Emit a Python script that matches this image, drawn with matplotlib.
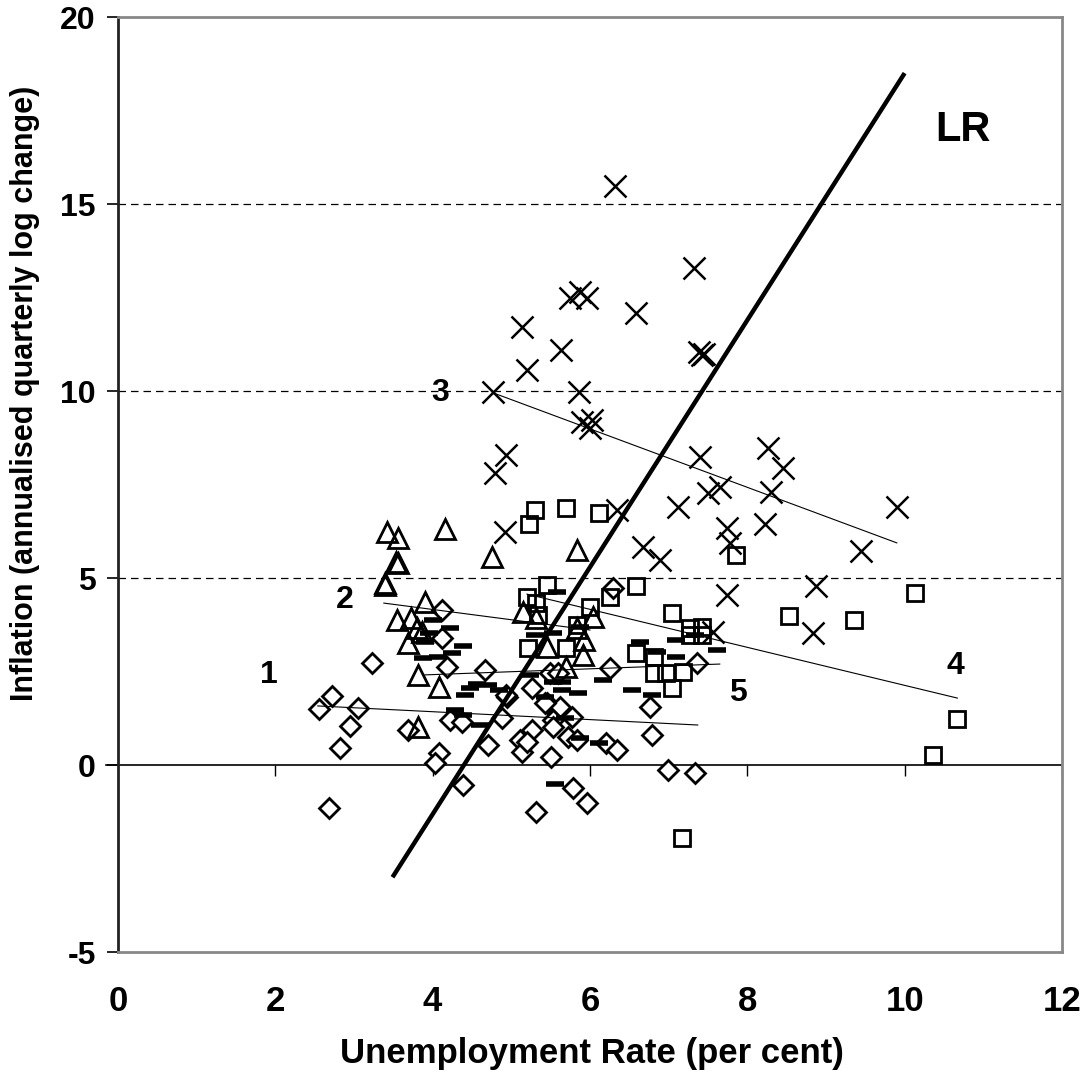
import matplotlib
matplotlib.use("Agg")
import matplotlib.pyplot as plt

plt.rcParams['font.family'] = ['Liberation Sans', 'DejaVu Sans']
plt.rcParams['font.weight'] = 'bold'
plt.rcParams['axes.unicode_minus'] = False

# period 1 (diamonds)
u1 = [2.55, 2.72, 3.05, 2.95, 2.82, 3.23, 2.68, 3.69, 4.08, 4.03, 4.38, 4.12, 4.12, 4.18,
      4.66, 4.22, 4.37, 4.71, 5.26, 4.94, 5.49, 5.59, 6.25, 6.29, 7.36, 6.76, 6.79, 6.99,
      7.33, 5.45, 5.62, 5.77, 5.53, 4.88, 5.26, 5.11, 5.13, 5.51, 5.72, 5.83, 6.21, 6.35,
      5.78, 5.96, 5.32, 4.93, 5.43, 5.53, 5.20]
p1 = [1.50, 1.84, 1.52, 1.04, 0.45, 2.73, -1.15, 0.94, 0.32, 0.05, -0.53, 4.14, 3.40, 2.62,
      2.54, 1.20, 1.15, 0.53, 2.06, 1.82, 2.46, 2.46, 2.59, 4.73, 2.73, 1.55, 0.80, -0.13,
      -0.21, 1.66, 1.55, 1.28, 1.20, 1.26, 0.94, 0.67, 0.35, 0.21, 0.75, 0.67, 0.59, 0.40,
      -0.62, -1.02, -1.26, 1.87, 1.66, 1.02, 0.62]

# period 2 (triangles)
u2 = [3.42, 3.56, 3.54, 3.56, 3.39, 3.39, 4.16, 4.76, 3.90, 3.55, 3.73, 3.80, 3.69, 3.86,
      3.82, 4.08, 3.82, 5.15, 6.04, 5.83, 5.93, 5.91, 5.70, 5.45, 5.32, 5.83]
p2 = [6.23, 6.07, 5.43, 5.40, 4.87, 4.81, 6.31, 5.56, 4.36, 3.88, 3.93, 3.66, 3.26, 3.56,
      2.41, 2.09, 1.02, 4.09, 3.96, 3.66, 3.34, 2.94, 2.62, 3.16, 3.93, 5.75]

# period 3 (crosses)
u3 = [6.32, 7.32, 5.74, 5.87, 5.96, 5.13, 5.63, 5.20, 6.59, 7.38, 7.42, 7.45, 4.77, 5.86,
      5.90, 6.02, 6.00, 4.93, 4.79, 7.40, 8.26, 7.50, 7.65, 8.30, 7.12, 6.34, 4.92, 8.46,
      8.23, 9.90, 9.44, 8.87, 8.83, 7.74, 6.67, 6.89, 7.78, 7.74, 7.56]
p3 = [15.48, 13.29, 12.50, 12.65, 12.50, 11.70, 11.10, 10.56, 12.08, 11.05, 10.95, 11.00,
      9.97, 9.97, 9.17, 9.22, 9.00, 8.29, 7.80, 8.24, 8.48, 7.27, 7.43, 7.30, 6.90, 6.82,
      6.23, 7.94, 6.44, 6.90, 5.72, 4.79, 3.53, 6.34, 5.83, 5.48, 5.94, 4.55, 3.56]

# period 4 (squares)
u4 = [5.30, 5.69, 6.12, 5.22, 7.86, 5.45, 5.20, 5.32, 5.34, 6.00, 6.25, 6.59, 7.04, 7.27,
      7.42, 7.42, 7.27, 5.21, 5.83, 5.70, 6.59, 6.82, 6.82, 6.97, 7.18, 7.04, 8.53, 9.36,
      10.13, 10.66, 10.36, 7.17]
p4 = [6.82, 6.87, 6.74, 6.44, 5.61, 4.81, 4.50, 4.33, 4.01, 4.22, 4.49, 4.79, 4.06, 3.66,
      3.69, 3.48, 3.48, 3.13, 3.74, 3.13, 2.99, 2.89, 2.46, 2.46, 2.49, 2.06, 3.98, 3.88,
      4.60, 1.23, 0.27, -1.95]

# period 5 (dashes)
u5 = [4.00, 4.22, 4.38, 3.88, 4.07, 4.24, 4.56, 4.47, 4.41, 4.28, 4.38, 3.96, 3.90, 4.60,
      5.58, 5.30, 5.53, 5.87, 6.63, 6.85, 7.10, 7.61, 7.33, 7.10, 5.24, 5.53, 5.65, 6.16,
      6.54, 6.79, 5.65, 5.85, 4.70, 4.85, 5.43, 5.68, 5.87, 6.12, 5.55]
p5 = [3.88, 3.66, 3.18, 2.86, 2.89, 2.99, 2.17, 2.06, 1.87, 1.47, 1.34, 3.53, 3.29, 1.07,
      4.63, 3.48, 3.53, 3.69, 3.29, 3.02, 2.89, 3.07, 3.48, 3.34, 2.41, 2.22, 2.22, 2.27,
      2.00, 1.87, 2.00, 1.93, 2.14, 2.00, 1.82, 1.26, 0.72, 0.59, -0.51]

# fitted lines for each period: (x0, x1), (y0, y1)
fit_x = [(2.54, 7.37), (3.38, 6.00), (4.77, 9.90), (5.20, 10.67), (3.90, 7.65)]
fit_y = [(1.58, 1.07), (4.33, 3.61), (9.95, 5.94), (4.57, 1.79), (2.41, 2.70)]
fit_lab = ['1', '2', '3', '4', '5']
lab_x = [1.92, 2.88, 4.10, 10.65, 7.88]
lab_y = [2.40, 4.40, 9.95, 2.65, 1.93]

# long-run line
lr_x = [3.49, 10.0]
lr_y = [-3.0, 18.5]

fig = plt.figure(figsize=(10.82, 10.76), dpi=100)
ax = fig.add_axes([0.109, 0.1152, 0.8725, 0.8690])

ax.plot(u1, p1, 'D', ms=10.5, mfc='white', mec='black', mew=2.0, ls='none', zorder=3)
ax.plot(u4, p4, 's', ms=12, mfc='none', mec='black', mew=2.0, ls='none', zorder=3)
ax.plot(u2, p2, '^', ms=14, mfc='none', mec='black', mew=2.0, ls='none', zorder=3)
ax.plot(u3, p3, 'x', ms=16, mec='black', mew=1.8, ls='none', zorder=3)
ax.plot(u5, p5, '_', ms=13, mec='black', mew=4.0, ls='none', zorder=4)

for fx, fy, t, tx, ty in zip(fit_x, fit_y, fit_lab, lab_x, lab_y):
    ax.plot(fx, fy, color='black', lw=0.8, zorder=5)
    ax.text(tx, ty, t, fontsize=23, fontweight='bold', ha='center', va='center')

ax.plot(lr_x, lr_y, color='black', lw=3.2, solid_capstyle='butt', zorder=6)
ax.text(10.74, 16.98, 'LR', fontsize=30, fontweight='bold', ha='center', va='center')

ax.set_xlim(0, 12)
ax.set_ylim(-5, 20)
ax.set_xticks(range(0, 13, 2))
ax.set_yticks(range(-5, 21, 5))

# dashed gridlines and the zero line
for g in [5, 10, 15]:
    ax.axhline(g, color='black', lw=0.9, ls=(0, (6, 4)), zorder=1)
ax.axhline(0, color='black', lw=1.2, zorder=2)
ax.plot([-0.15, 0], [0, 0], color='black', lw=1.2, clip_on=False)
ax.vlines(range(2, 13, 2), -0.28, 0, color='black', lw=1.0, zorder=2)

for side in ['top', 'right', 'bottom']:
    ax.spines[side].set_color('#888888')
    ax.spines[side].set_linewidth(2)
ax.spines['left'].set_color('#222222')
ax.spines['left'].set_linewidth(2)

ax.tick_params(axis='x', length=0, pad=24, labelsize=25)
ax.tick_params(axis='y', length=8, width=1.2, pad=8, labelsize=23, direction='out')
for lbl in ax.get_xticklabels() + ax.get_yticklabels():
    lbl.set_fontweight('bold')

ax.set_xlabel('Unemployment Rate (per cent)', fontsize=25, fontweight='bold', va='center')
ax.xaxis.set_label_coords(0.502, -0.108)
ax.set_ylabel('Inflation (annualised quarterly log change)', fontsize=22, fontweight='bold',
              va='center')
ax.yaxis.set_label_coords(-0.0985, 0.597)

fig.savefig('out.png', dpi=100)
